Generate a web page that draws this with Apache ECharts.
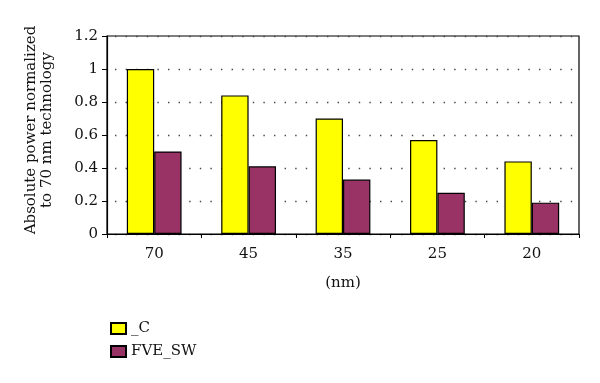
<!DOCTYPE html>
<html>
<head>
<meta charset="utf-8">
<script src="https://cdn.jsdelivr.net/npm/echarts@6/dist/echarts.min.js"></script>
<style>html,body{margin:0;padding:0;background:#fff}#c{width:600px;height:383px}</style>
</head>
<body>
<div id="c"></div>
<script>
const categories = ['70', '45', '35', '25', '20'];
const seriesNames = ['_C', 'FVE_SW'];
const valuesC = [1.0, 0.84, 0.70, 0.57, 0.44];
const valuesFVE = [0.50, 0.41, 0.33, 0.25, 0.19];
const yTicks = [0, 0.2, 0.4, 0.6, 0.8, 1, 1.2];

const font = 'DejaVu Serif';
const chart = echarts.init(document.getElementById('c'), null, {renderer: 'canvas'});
chart.setOption({
  animation: false,
  backgroundColor: '#fff',
  textStyle: {fontFamily: font},
  grid: {left: 107, right: 21, top: 36, bottom: 149, show: true, borderColor: '#000', borderWidth: 1.2, backgroundColor: 'transparent'},
  legend: {
    orient: 'vertical', left: 105, top: 316, itemWidth: 15, itemHeight: 11, itemGap: 8,
    icon: 'rect',
    textStyle: {fontFamily: font, fontSize: 15, color: '#111'},
    data: seriesNames
  },
  xAxis: {
    type: 'category', data: categories,
    name: '(nm)', nameLocation: 'middle', nameGap: 42,
    nameTextStyle: {fontFamily: font, fontSize: 15, color: '#111'},
    axisLine: {lineStyle: {color: '#000', width: 1.2}},
    axisTick: {show: true, length: 4, inside: false, lineStyle: {color: '#000'}},
    axisLabel: {fontFamily: font, fontSize: 15, color: '#111', margin: 13},
    splitLine: {show: false}
  },
  yAxis: {
    type: 'value', min: 0, max: 1.2, interval: 0.2,
    name: 'Absolute power normalized\nto 70 nm technology', nameLocation: 'middle', nameRotate: 90, nameGap: 52,
    nameTextStyle: {fontFamily: font, fontSize: 15, color: '#111', lineHeight: 16, padding: [0, 0, 0, 10]},
    axisLine: {show: true, lineStyle: {color: '#000', width: 1.2}},
    axisTick: {show: true, length: 5, lineStyle: {color: '#000'}},
    axisLabel: {fontFamily: font, fontSize: 15, color: '#111', margin: 9,
      formatter: v => { const t = yTicks.find(x => Math.abs(x - v) < 1e-9); return t === undefined ? '' : String(t); }},
    splitLine: {show: true, lineStyle: {color: '#444', width: 1.4, type: [1.4, 9.2], dashOffset: -8}}
  },
  series: [
    {name: seriesNames[0], type: 'bar', data: valuesC, barGap: '0%', barCategoryGap: '42%',
      itemStyle: {color: '#ffff00', borderColor: '#000', borderWidth: 1.2}},
    {name: seriesNames[1], type: 'bar', data: valuesFVE,
      itemStyle: {color: '#993366', borderColor: '#000', borderWidth: 1.2}}
  ]
});
</script>
</body>
</html>
